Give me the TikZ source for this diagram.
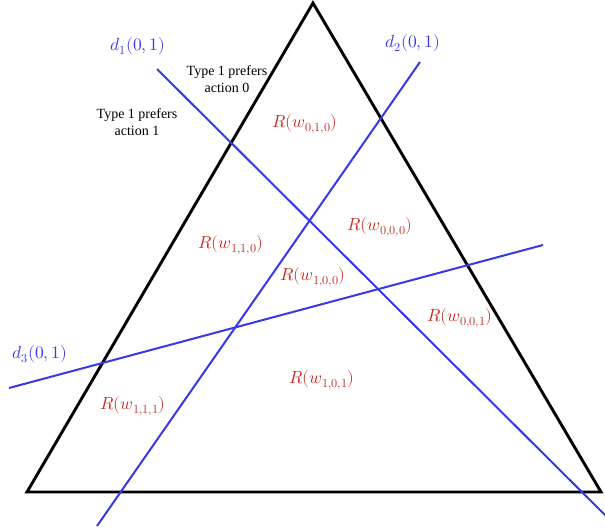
\documentclass[tikz,border=0pt]{standalone}
\usepackage{fontspec}
\setmainfont{Liberation Serif}
\usepackage{unicode-math}
\setmathfont{Latin Modern Math}
\definecolor{lblue}{RGB}{55,55,235}
\definecolor{lred}{RGB}{200,45,40}
\tikzset{
  tri/.style={line width=2.9pt, line join=miter},
  cut/.style={lblue, line width=2pt},
  region/.style={text=lred, font=\fontsize{17.5}{20}\selectfont, inner sep=0pt},
  dlabel/.style={text=lblue, font=\fontsize{17.5}{20}\selectfont, inner sep=0pt},
  note/.style={font=\fontsize{14}{17}\selectfont, align=center, inner sep=0pt}
}
\begin{document}
\begin{tikzpicture}[x=1pt,y=-1pt]
\useasboundingbox (0,0) rectangle (605,531);
\coordinate (A) at (313,3);
\coordinate (B) at (27,492);
\coordinate (C) at (601,492);
\draw[tri] (A) -- (B) -- (C) -- cycle;
\coordinate (d1s) at (157,69);
\coordinate (d1e) at (606,516);
\coordinate (d2s) at (420,62);
\coordinate (d2e) at (97,526);
\coordinate (d3s) at (9,388);
\coordinate (d3e) at (543,245);
\draw[cut] (d1s) -- (d1e);
\draw[cut] (d2s) -- (d2e);
\draw[cut] (d3s) -- (d3e);
\node[dlabel] (l1) at (138,46) {$d_1(0,1)$};
\node[dlabel] (l2) at (413,43) {$d_2(0,1)$};
\node[dlabel] (l3) at (40,354) {$d_3(0,1)$};
\node[note] (n0) at (227,79) {Type 1 prefers\\action 0};
\node[note] (n1) at (137,122) {Type 1 prefers\\action 1};
\node[region] (r010) at (305,124) {$R(w_{0,1,0})$};
\node[region] (r110) at (231,245) {$R(w_{1,1,0})$};
\node[region] (r000) at (380,227) {$R(w_{0,0,0})$};
\node[region] (r100) at (313,277) {$R(w_{1,0,0})$};
\node[region] (r001) at (460,318) {$R(w_{0,0,1})$};
\node[region] (r101) at (322,380) {$R(w_{1,0,1})$};
\node[region] (r111) at (133,406) {$R(w_{1,1,1})$};
\end{tikzpicture}
\end{document}
